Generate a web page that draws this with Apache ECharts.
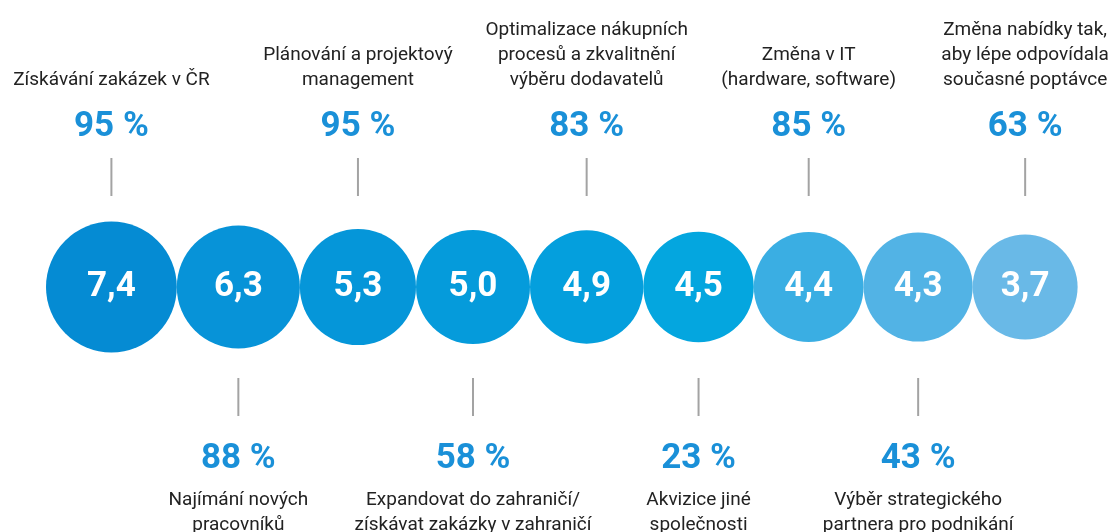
<!DOCTYPE html>
<html>
<head>
<meta charset="utf-8">
<script src="https://cdn.jsdelivr.net/npm/echarts@6/dist/echarts.min.js"></script>
<style>
  html, body { margin: 0; padding: 0; background: #fff; }
  #bubbles { width: 1113px; height: 532px; }
</style>
</head>
<body>
<div id="bubbles"></div>
<script>
// hodnoty v kruzích
const scores = [7.4, 6.3, 5.3, 5.0, 4.9, 4.5, 4.4, 4.3, 3.7];
// podíl v procentech
const shares = [95, 88, 95, 58, 83, 23, 85, 43, 63];
const topics = [
  'Získávání zakázek v ČR',
  'Najímání nových\npracovníků',
  'Plánování a projektový\nmanagement',
  'Expandovat do zahraničí/\nzískávat zakázky v zahraničí',
  'Optimalizace nákupních\nprocesů a zkvalitnění\nvýběru dodavatelů',
  'Akvizice jiné\nspolečnosti',
  'Změna v IT\n(hardware, software)',
  'Výběr strategického\npartnera pro podnikání',
  'Změna nabídky tak,\naby lépe odpovídala\nsoučasné poptávce'
];
const colors = ['#058bd3', '#0793d8', '#0596d9', '#059bdb', '#049fdd', '#04a6df', '#3aaee3', '#52b3e5', '#69b9e7'];

const font = 'Roboto, "Noto Sans", sans-serif';
const fmt = v => v.toFixed(1).replace('.', ',');

// průměr kruhu podle hodnoty (px), kruhy se dotýkají
const diam = v => 79 + 7.0 * v;
const startX = 46;
let acc = startX;
const points = scores.map(v => {
  const d = diam(v);
  const x = acc + d / 2;
  acc += d;
  return [x, 0];
});

let chart = echarts.init(document.getElementById('bubbles'));
let option = {
  animation: false,
  grid: { left: 0, right: 0, top: 42, bottom: 0 },
  xAxis: { type: 'value', min: 0, max: 1113, show: false },
  yAxis: { type: 'value', min: -1, max: 1, show: false },
  series: [
    {
      type: 'scatter',
      data: points.map((p, i) => ({ value: p, itemStyle: { color: colors[i], opacity: 1 } })),
      symbolSize: (val, params) => diam(scores[params.dataIndex]),
      label: {
        show: true,
        position: 'inside',
        formatter: p => fmt(scores[p.dataIndex]),
        color: '#fff',
        fontFamily: font,
        fontWeight: 'bold',
        fontSize: 35
      },
      z: 2
    },
    {
      type: 'custom',
      data: points,
      encode: { x: 0, y: 1 },
      clip: false,
      z: 3,
      renderItem: (params, api) => {
        const i = params.dataIndex;
        const p = api.coord([api.value(0), api.value(1)]);
        const up = i % 2 === 0;
        const s = up ? -1 : 1;
        return {
          type: 'group',
          children: [
            {
              type: 'line',
              shape: { x1: p[0], y1: p[1] + s * 91, x2: p[0], y2: p[1] + s * 129 },
              style: { stroke: '#a3a3a3', lineWidth: 2 }
            },
            {
              type: 'text',
              style: {
                x: p[0],
                y: up ? p[1] - 160 : p[1] + 172,
                text: shares[i] + ' %',
                align: 'center',
                verticalAlign: 'middle',
                fill: '#1a90d8',
                font: 'bold 35px ' + font
              }
            },
            {
              type: 'text',
              style: {
                x: p[0],
                y: up ? p[1] - 194 : p[1] + 201,
                text: topics[i],
                align: 'center',
                verticalAlign: up ? 'bottom' : 'top',
                lineHeight: 25,
                fill: '#222',
                font: '19px ' + font
              }
            }
          ]
        };
      }
    }
  ]
};
chart.setOption(option);
</script>
</body>
</html>
